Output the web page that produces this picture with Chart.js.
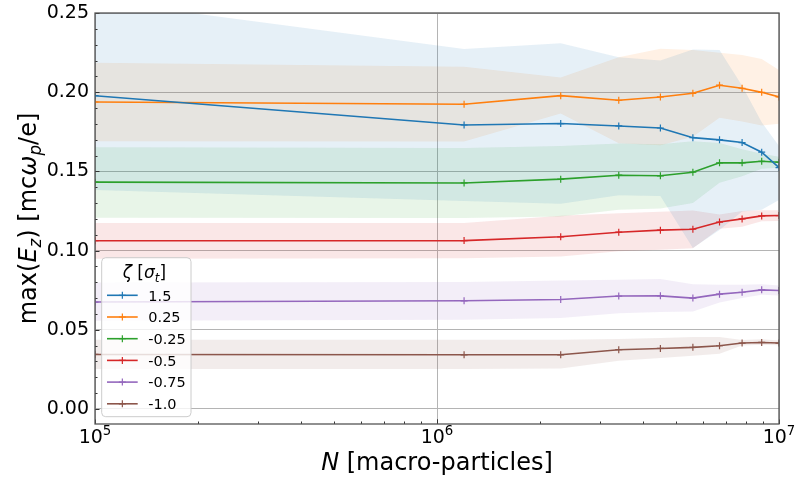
<!DOCTYPE html>
<html>
<head>
<meta charset="utf-8">
<script src="https://cdn.jsdelivr.net/npm/chart.js@4.4.1/dist/chart.umd.min.js"></script>
<style>
  html, body { margin: 0; padding: 0; background: #fff; }
  canvas { display: block; }
</style>
</head>
<body>
<canvas id="myChart" width="796" height="483"></canvas>
<script>
// number of macro-particles (x) and slice positions zeta (legend)
const particles = [1e5, 1.2e6, 2.3e6, 3.4e6, 4.5e6, 5.6e6, 6.7e6, 7.8e6, 8.9e6, 1e7];
const zetaLabels = ['1.5', '0.25', '-0.25', '-0.5', '-0.75', '-1.0'];
const colors = ['#1f77b4', '#ff7f0e', '#2ca02c', '#d62728', '#9467bd', '#8c564b'];

const xTicks = [1e5, 1e6, 1e7];
const yTicks = [0, 0.05, 0.1, 0.15, 0.2, 0.25];

// mean max(Ez) per slice, plus upper/lower edge of the spread band
const mean15  = [0.1978, 0.1793, 0.1802, 0.1787, 0.1774, 0.1713, 0.1699, 0.1682, 0.1621, 0.1524];
const upper15 = [0.2580, 0.2273, 0.2309, 0.2220, 0.2200, 0.2270, 0.2266, 0.2040, 0.1810, 0.1660];
const lower15 = [0.1383, 0.1313, 0.1295, 0.1350, 0.1345, 0.1017, 0.1130, 0.1246, 0.1257, 0.1320];

const mean025  = [0.1938, 0.1924, 0.1978, 0.1949, 0.1970, 0.1993, 0.2044, 0.2025, 0.1999, 0.1970];
const upper025 = [0.2186, 0.2161, 0.2092, 0.2220, 0.2275, 0.2267, 0.2249, 0.2235, 0.2209, 0.2140];
const lower025 = [0.1690, 0.1688, 0.1865, 0.1678, 0.1665, 0.1719, 0.1839, 0.1815, 0.1789, 0.1800];

const meanM025  = [0.1432, 0.1427, 0.1451, 0.1476, 0.1472, 0.1495, 0.1554, 0.1554, 0.1564, 0.1558];
const upperM025 = [0.1652, 0.1647, 0.1661, 0.1676, 0.1672, 0.1690, 0.1679, 0.1639, 0.1611, 0.1593];
const lowerM025 = [0.1207, 0.1205, 0.1215, 0.1257, 0.1265, 0.1300, 0.1429, 0.1469, 0.1517, 0.1523];

const meanM05  = [0.1062, 0.1063, 0.1087, 0.1116, 0.1129, 0.1135, 0.1180, 0.1200, 0.1219, 0.1221];
const upperM05 = [0.1174, 0.1174, 0.1220, 0.1236, 0.1245, 0.1253, 0.1228, 0.1250, 0.1255, 0.1255];
const lowerM05 = [0.0948, 0.0952, 0.0963, 0.0995, 0.1005, 0.1015, 0.1138, 0.1150, 0.1185, 0.1187];

const meanM075  = [0.0675, 0.0683, 0.0691, 0.0713, 0.0714, 0.0700, 0.0725, 0.0737, 0.0752, 0.0748];
const upperM075 = [0.0799, 0.0801, 0.0811, 0.0815, 0.0820, 0.0788, 0.0784, 0.0784, 0.0788, 0.0780];
const lowerM075 = [0.0557, 0.0563, 0.0574, 0.0605, 0.0612, 0.0615, 0.0672, 0.0700, 0.0721, 0.0716];

const meanM10  = [0.0344, 0.0342, 0.0342, 0.0374, 0.0382, 0.0389, 0.0399, 0.0416, 0.0420, 0.0416];
const upperM10 = [0.0437, 0.0437, 0.0437, 0.0441, 0.0448, 0.0454, 0.0455, 0.0435, 0.0440, 0.0432];
const lowerM10 = [0.0252, 0.0252, 0.0256, 0.0304, 0.0322, 0.0336, 0.0349, 0.0400, 0.0405, 0.0402];

const means  = [mean15, mean025, meanM025, meanM05, meanM075, meanM10];
const uppers = [upper15, upper025, upperM025, upperM05, upperM075, upperM10];
const lowers = [lower15, lower025, lowerM025, lowerM05, lowerM075, lowerM10];

const FONT = '"DejaVu Sans", sans-serif';

function rgba(hex, a) {
  const n = parseInt(hex.slice(1), 16);
  return `rgba(${n >> 16}, ${(n >> 8) & 255}, ${n & 255}, ${a})`;
}

function points(values) {
  return particles.map((x, i) => ({ x: x, y: values[i] }));
}

const datasets = [];
zetaLabels.forEach((label, i) => {
  datasets.push({
    label: label + ' upper',
    data: points(uppers[i]),
    borderWidth: 0,
    pointRadius: 0,
    backgroundColor: rgba(colors[i], 0.11),
    fill: '+1',
    order: 1
  });
  datasets.push({
    label: label + ' lower',
    data: points(lowers[i]),
    borderWidth: 0,
    pointRadius: 0,
    fill: false,
    order: 1
  });
  datasets.push({
    label: label,
    data: points(means[i]),
    borderColor: colors[i],
    backgroundColor: colors[i],
    borderWidth: 1.6,
    pointStyle: 'cross',
    pointRadius: 3.5,
    pointBorderWidth: 1.2,
    pointBorderColor: colors[i],
    fill: false,
    order: 0
  });
});

// mathtext-like runs: italic, subscript, superscript
function partFont(p, size) {
  const s = (p.sub || p.sup) ? size * 0.7 : size;
  return (p.it ? 'italic ' : '') + s + 'px ' + FONT;
}

function drawRich(ctx, parts, x, y, size, align) {
  let w = 0;
  parts.forEach(p => { ctx.font = partFont(p, size); w += ctx.measureText(p.t).width; });
  let cx = align === 'center' ? x - w / 2 : x;
  ctx.textAlign = 'left';
  ctx.textBaseline = 'alphabetic';
  parts.forEach(p => {
    ctx.font = partFont(p, size);
    const dy = p.sub ? size * 0.22 : (p.sup ? -size * 0.44 : 0);
    ctx.fillText(p.t, cx, y + dy);
    cx += ctx.measureText(p.t).width;
  });
}

const yTitle = [{ t: 'max(' }, { t: 'E', it: true }, { t: 'z', it: true, sub: true },
  { t: ') [mc' }, { t: 'ω', it: true }, { t: 'p', it: true, sub: true }, { t: '/e]' }];
const xTitle = [{ t: 'N', it: true }, { t: ' [macro-particles]' }];
const legendTitle = [{ t: 'ζ', it: true }, { t: ' [' }, { t: 'σ', it: true },
  { t: 't', it: true, sub: true }, { t: ']' }];

const decorations = {
  id: 'decorations',
  afterDraw(chart) {
    const { ctx, chartArea: ca } = chart;
    const x = chart.scales.x, y = chart.scales.y;
    ctx.save();

    // inward ticks on left and bottom
    ctx.strokeStyle = '#333';
    ctx.lineWidth = 1;
    ctx.beginPath();
    for (let k = 0; k <= 25; k++) {
      const py = Math.round(y.getPixelForValue(k * 0.01)) + 0.5;
      const len = k % 5 === 0 ? 4.5 : 2.5;
      ctx.moveTo(ca.left, py);
      ctx.lineTo(ca.left + len, py);
    }
    [1e5, 1e6].forEach(dec => {
      for (let m = 1; m <= 10; m++) {
        const px = Math.round(x.getPixelForValue(m * dec)) + 0.5;
        const len = (m === 1 || m === 10) ? 4.5 : 2.5;
        ctx.moveTo(px, ca.bottom);
        ctx.lineTo(px, ca.bottom - len);
      }
    });
    ctx.stroke();

    // axes frame
    ctx.strokeStyle = '#555';
    ctx.lineWidth = 1.3;
    ctx.strokeRect(ca.left, ca.top, ca.right - ca.left, ca.bottom - ca.top);

    // x tick labels 10^n
    ctx.fillStyle = '#000';
    xTicks.forEach(v => {
      const exp = String(Math.round(Math.log10(v)));
      drawRich(ctx, [{ t: '10' }, { t: exp, sup: true }], x.getPixelForValue(v), ca.bottom + 19.3, 19, 'center');
    });

    // axis titles
    drawRich(ctx, xTitle, (ca.left + ca.right) / 2, 470, 24, 'center');
    ctx.save();
    ctx.translate(36, (ca.top + ca.bottom) / 2);
    ctx.rotate(-Math.PI / 2);
    drawRich(ctx, yTitle, 0, 0, 24, 'center');
    ctx.restore();

    // legend box
    const bx = ca.left + 6.7, by = ca.bottom - 7.3 - 159, bw = 89.3, bh = 159;
    ctx.beginPath();
    ctx.roundRect(bx, by, bw, bh, 4);
    ctx.fillStyle = 'rgba(255, 255, 255, 0.8)';
    ctx.fill();
    ctx.strokeStyle = '#cccccc';
    ctx.lineWidth = 1;
    ctx.stroke();

    ctx.fillStyle = '#000';
    drawRich(ctx, legendTitle, bx + bw / 2 - 2, by + 20.5, 17, 'center');

    zetaLabels.forEach((label, i) => {
      const ry = by + 37.6 + i * 21.7;
      const x0 = bx + 5.3, x1 = bx + 36;
      const xm = (x0 + x1) / 2;
      ctx.strokeStyle = colors[i];
      ctx.lineWidth = 1.6;
      ctx.beginPath();
      ctx.moveTo(x0, ry);
      ctx.lineTo(x1, ry);
      ctx.stroke();
      ctx.lineWidth = 1.2;
      ctx.beginPath();
      ctx.moveTo(xm, ry - 3.5);
      ctx.lineTo(xm, ry + 3.5);
      ctx.moveTo(xm - 3.5, ry);
      ctx.lineTo(xm + 3.5, ry);
      ctx.stroke();
      ctx.fillStyle = '#000';
      ctx.font = '14.5px ' + FONT;
      ctx.textAlign = 'left';
      ctx.textBaseline = 'alphabetic';
      ctx.fillText(label, bx + 46.6, ry + 5.3);
    });

    ctx.restore();
  }
};

const ctx = document.getElementById('myChart').getContext('2d');
new Chart(ctx, {
  type: 'line',
  data: { datasets: datasets },
  options: {
    responsive: false,
    animation: false,
    devicePixelRatio: 1,
    layout: { padding: { top: 13, right: 17, left: 0, bottom: 0 } },
    plugins: {
      legend: { display: false },
      tooltip: { enabled: false }
    },
    scales: {
      x: {
        type: 'logarithmic',
        min: 1e5,
        max: 1e7,
        afterBuildTicks: s => { s.ticks = xTicks.map(v => ({ value: v })); },
        ticks: { display: false },
        grid: { color: '#b4b4b4', lineWidth: 1, drawTicks: false },
        border: { display: false },
        afterFit: s => { s.height = 59; s.paddingLeft = 0; s.paddingRight = 0; }
      },
      y: {
        min: -0.0095,
        max: 0.25,
        afterBuildTicks: s => { s.ticks = yTicks.map(v => ({ value: v })); },
        ticks: {
          font: { family: FONT, size: 19 },
          color: '#000',
          padding: 6,
          callback: v => Number(v).toFixed(2)
        },
        grid: { color: '#b4b4b4', lineWidth: 1, drawTicks: false },
        border: { display: false },
        afterFit: s => { s.width = 95; s.paddingTop = 0; s.paddingBottom = 0; }
      }
    }
  },
  plugins: [decorations]
});
</script>
</body>
</html>
